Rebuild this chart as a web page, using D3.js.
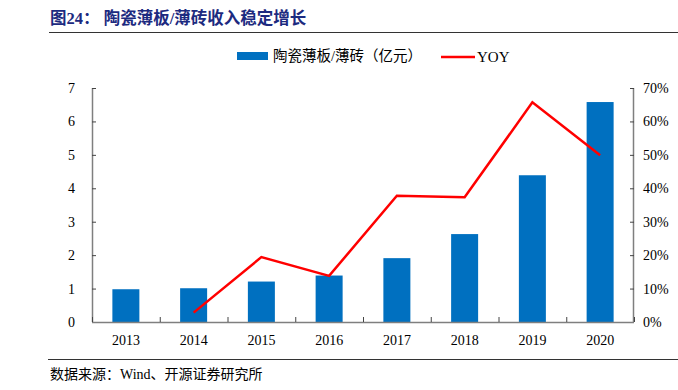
<!DOCTYPE html>
<html><head><meta charset="utf-8">
<script src="https://cdn.jsdelivr.net/npm/d3@7"></script>
<style>body{margin:0;background:#fff}svg{display:block}</style>
</head><body>
<svg id="c" width="678" height="390"></svg>
<script>
const years = ["2013","2014","2015","2016","2017","2018","2019","2020"];
const revenue = [0.98, 1.01, 1.21, 1.39, 1.91, 2.63, 4.39, 6.58];
const yoy = [null, 0.028, 0.194, 0.138, 0.378, 0.373, 0.657, 0.499];
const leftTicks = [0,1,2,3,4,5,6,7];
const rightTicks = [0,0.1,0.2,0.3,0.4,0.5,0.6,0.7];
const titleText = "图24：  陶瓷薄板/薄砖收入稳定增长";
const sourceText = "数据来源：Wind、开源证券研究所";
const legendBar = "陶瓷薄板/薄砖（亿元）";
const legendLine = "YOY";

const svg = d3.select("#c");
const serif = "'Liberation Serif','DejaVu Serif',serif";
const cjk = "'Liberation Serif','Noto Sans CJK SC',serif";
const L = 92, R = 634, T = 88, B = 322;

// title
svg.append("text").attr("x", 50).attr("y", 24).attr("fill", "#1c2a80")
  .attr("font-family", cjk).attr("font-weight", "bold").attr("font-size", 16.5)
  .text(titleText);
svg.append("line").attr("x1", 49).attr("x2", 678).attr("y1", 32.5).attr("y2", 32.5)
  .attr("stroke", "#333").attr("stroke-width", 1);

const xb = d3.scaleBand().domain(years).range([L, R]);
const y = d3.scaleLinear().domain([0, 7]).range([B, T]);
const y2 = d3.scaleLinear().domain([0, 0.7]).range([B, T]);

// bars
svg.append("g").selectAll("rect").data(years).join("rect")
  .attr("x", d => xb(d) + xb.bandwidth()/2 - 13.5)
  .attr("width", 27)
  .attr("y", (d,i) => y(revenue[i]))
  .attr("height", (d,i) => B - y(revenue[i]))
  .attr("fill", "#0070c0");

// axes
const axisColor = "#7f7f7f";
const gl = svg.append("g").attr("transform", `translate(${L},0)`)
  .call(d3.axisRight(y).tickValues(leftTicks).tickSize(4).tickFormat(""));
const gr = svg.append("g").attr("transform", `translate(${R},0)`)
  .call(d3.axisLeft(y2).tickValues(rightTicks).tickSize(4).tickFormat(""));
const gx = svg.append("g").attr("transform", `translate(0,${B})`)
  .call(d3.axisTop(d3.scaleLinear().domain([0, years.length]).range([L, R]))
    .tickValues(d3.range(years.length + 1)).tickSize(5).tickFormat(""));
[gl, gr, gx].forEach(g => {
  g.select(".domain").attr("stroke", axisColor).attr("stroke-width", 1.5);
  g.selectAll(".tick line").attr("stroke", "#444");
});
gl.select(".domain").attr("d", `M0.5,${T}V${B}`);
gr.select(".domain").attr("d", `M-0.5,${T}V${B}`);
gx.select(".domain").attr("d", `M${L},0.5H${R}`);

// tick labels
svg.append("g").selectAll("text").data(leftTicks).join("text")
  .attr("x", 75).attr("y", d => y(d) + 5).attr("text-anchor", "end")
  .attr("font-family", serif).attr("font-size", 14).attr("fill", "#000").text(d => d);
svg.append("g").selectAll("text").data(rightTicks).join("text")
  .attr("x", 643).attr("y", d => y2(d) + 5).attr("text-anchor", "start")
  .attr("font-family", serif).attr("font-size", 14).attr("fill", "#000")
  .text(d => d3.format(".0%")(d));
svg.append("g").selectAll("text").data(years).join("text")
  .attr("x", d => xb(d) + xb.bandwidth()/2).attr("y", 345).attr("text-anchor", "middle")
  .attr("font-family", serif).attr("font-size", 14).attr("fill", "#000").text(d => d);

// line
const pts = years.map((d,i) => [xb(d) + xb.bandwidth()/2, yoy[i]]).filter(p => p[1] !== null);
svg.append("path").datum(pts)
  .attr("d", d3.line().x(p => p[0]).y(p => y2(p[1])))
  .attr("fill", "none").attr("stroke", "#ff0000").attr("stroke-width", 2.5);

// legend
svg.append("rect").attr("x", 237).attr("y", 52).attr("width", 31).attr("height", 8).attr("fill", "#0070c0");
svg.append("text").attr("x", 273).attr("y", 61).attr("font-family", cjk).attr("font-size", 14.5).text(legendBar);
svg.append("line").attr("x1", 441).attr("x2", 475).attr("y1", 57).attr("y2", 57)
  .attr("stroke", "#ff0000").attr("stroke-width", 2.5);
svg.append("text").attr("x", 477).attr("y", 62).attr("font-family", serif).attr("font-size", 15).text(legendLine);

// footer
svg.append("line").attr("x1", 48).attr("x2", 678).attr("y1", 359.5).attr("y2", 359.5)
  .attr("stroke", "#333").attr("stroke-width", 1);
svg.append("text").attr("x", 50).attr("y", 379).attr("font-family", cjk).attr("font-size", 14)
  .text(sourceText);
</script>
</body></html>
